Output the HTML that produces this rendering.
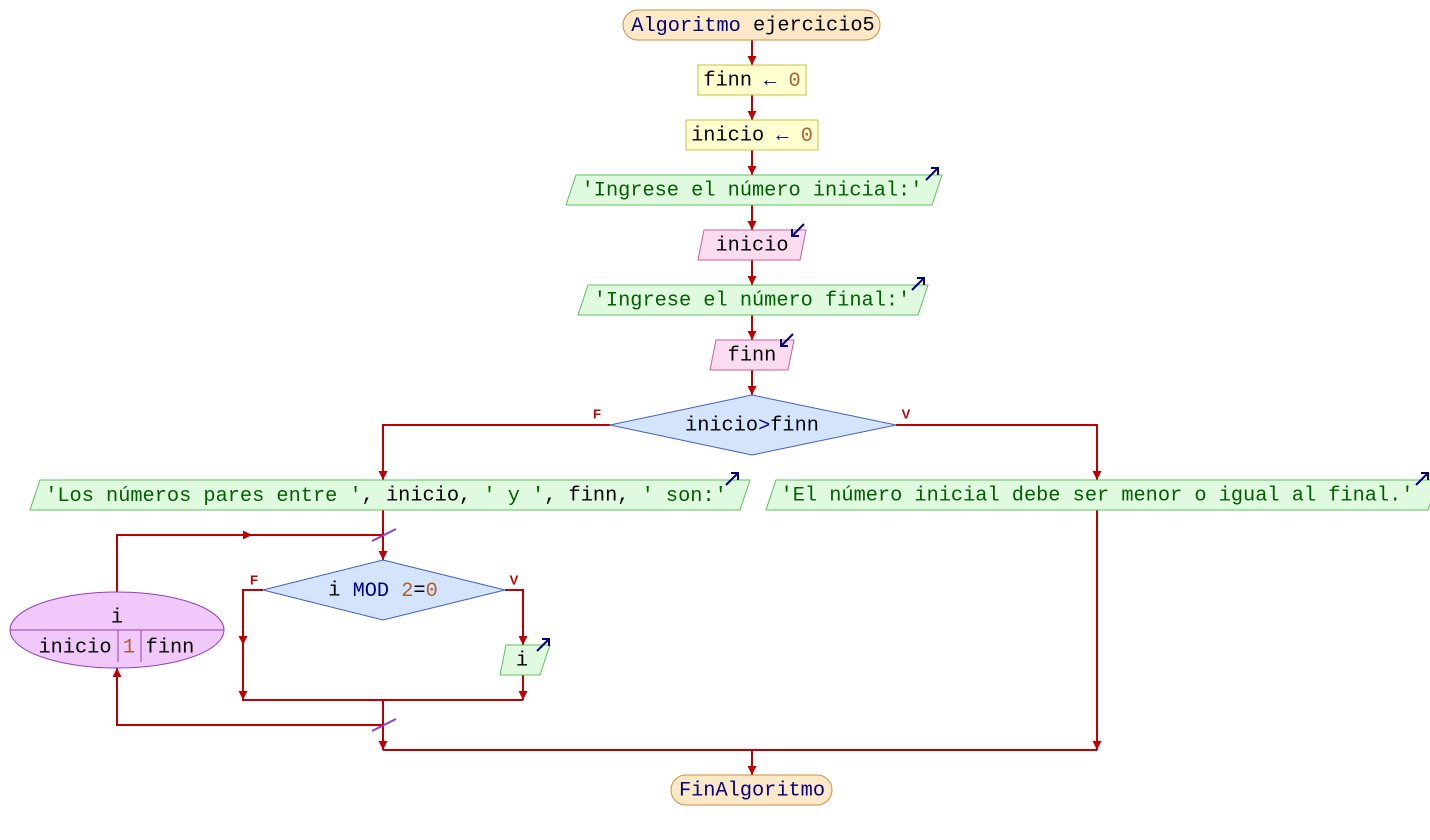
<!DOCTYPE html>
<html><head><meta charset="utf-8"><style>
body{margin:0;background:#fff}
svg{display:block}
text{font-family:"Liberation Mono",monospace;font-size:20.3px;dominant-baseline:central;text-anchor:middle}
.s{fill:#006000}.n{fill:#b06030}.k{fill:#000080}
.fl{font-family:"Liberation Sans",sans-serif;font-size:13px;font-weight:bold;fill:#c00000}
</style></head><body>
<svg width="1430" height="840" viewBox="0 0 1430 840">
<defs>
<marker id="a" viewBox="0 0 10 10" refX="10" refY="5" markerWidth="9" markerHeight="9" orient="auto-start-reverse" markerUnits="userSpaceOnUse"><path d="M0,0L10,5L0,10z" fill="#c00000"/></marker>
<g id="oa"><line x1="0" y1="12" x2="12" y2="0" stroke="#000080" stroke-width="2"/><path d="M5,0H12V7" fill="none" stroke="#000080" stroke-width="2"/></g>
<g id="ia"><line x1="12" y1="0" x2="0" y2="12" stroke="#000080" stroke-width="2"/><path d="M0,5V12H7" fill="none" stroke="#000080" stroke-width="2"/></g>
</defs>
<g stroke="#c00000" stroke-width="2" fill="none">
<line x1="752" y1="40" x2="752" y2="65" marker-end="url(#a)"/>
<line x1="752" y1="95" x2="752" y2="120" marker-end="url(#a)"/>
<line x1="752" y1="150" x2="752" y2="175" marker-end="url(#a)"/>
<line x1="752" y1="205" x2="752" y2="230" marker-end="url(#a)"/>
<line x1="752" y1="260" x2="752" y2="285" marker-end="url(#a)"/>
<line x1="752" y1="315" x2="752" y2="340" marker-end="url(#a)"/>
<line x1="752" y1="370" x2="752" y2="395" marker-end="url(#a)"/>
<path d="M610,425H383V480" marker-end="url(#a)"/>
<path d="M896,425H1097V480" marker-end="url(#a)"/>
<line x1="383" y1="510" x2="383" y2="560" marker-end="url(#a)"/>
<path d="M117,592V535H383"/>
<line x1="117" y1="535" x2="252" y2="535" marker-end="url(#a)"/>
<path d="M263,590H243V700H523"/>
<line x1="243" y1="600" x2="243" y2="645" marker-end="url(#a)"/>
<line x1="243" y1="650" x2="243" y2="700" marker-end="url(#a)"/>
<path d="M505,590H523V645" marker-end="url(#a)"/>
<line x1="523" y1="675" x2="523" y2="700" marker-end="url(#a)"/>
<path d="M383,700V725H117V668" marker-end="url(#a)"/>
<line x1="383" y1="725" x2="383" y2="750" marker-end="url(#a)"/>
<line x1="1097" y1="510" x2="1097" y2="750" marker-end="url(#a)"/>
<line x1="383" y1="750" x2="1097" y2="750"/>
<line x1="752" y1="750" x2="752" y2="775" marker-end="url(#a)"/>
</g>
<line x1="372" y1="541" x2="396" y2="529" stroke="#9040c0" stroke-width="2"/>
<line x1="372" y1="731" x2="396" y2="719" stroke="#9040c0" stroke-width="2"/>
<rect x="623" y="10" width="257" height="30" rx="15" fill="#fde8c8" stroke="#c89040"/>
<text x="753" y="26"><tspan class="k">Algoritmo</tspan> ejercicio5</text>
<rect x="698" y="65" width="108" height="30" fill="#ffffd0" stroke="#c8c040"/>
<text x="752" y="81">finn <tspan class="k">←</tspan> <tspan class="n">0</tspan></text>
<rect x="686" y="120" width="132" height="30" fill="#ffffd0" stroke="#c8c040"/>
<text x="752" y="136">inicio <tspan class="k">←</tspan> <tspan class="n">0</tspan></text>
<polygon points="576,175 942,175 932,205 566,205" fill="#e0fae0" stroke="#60c060"/>
<text x="752" y="191" class="s">'Ingrese el número inicial:'</text>
<use href="#oa" x="926" y="168"/>
<polygon points="704,230 806,230 800,260 698,260" fill="#fadcf0" stroke="#d06090"/>
<text x="752" y="246">inicio</text>
<use href="#ia" x="792" y="224"/>
<polygon points="588,285 928,285 918,315 578,315" fill="#e0fae0" stroke="#60c060"/>
<text x="752" y="301" class="s">'Ingrese el número final:'</text>
<use href="#oa" x="912" y="278"/>
<polygon points="716,340 794,340 788,370 710,370" fill="#fadcf0" stroke="#d06090"/>
<text x="752" y="356">finn</text>
<use href="#ia" x="781" y="334"/>
<polygon points="752,395 896,425 752,455 610,425" fill="#d4e4fc" stroke="#4060c0"/>
<text x="752" y="426">inicio<tspan class="k">&gt;</tspan>finn</text>
<text x="597" y="414" class="fl">F</text>
<text x="906" y="414" class="fl">V</text>
<polygon points="40,480 750,480 740,510 30,510" fill="#e0fae0" stroke="#60c060"/>
<text x="386" y="496"><tspan class="s">'Los números pares entre '</tspan>, inicio, <tspan class="s">' y '</tspan>, finn, <tspan class="s">' son:'</tspan></text>
<use href="#oa" x="726" y="473"/>
<polygon points="776,480 1438,480 1428,510 766,510" fill="#e0fae0" stroke="#60c060"/>
<text x="1097" y="496" class="s">'El número inicial debe ser menor o igual al final.'</text>
<use href="#oa" x="1416" y="473"/>
<polygon points="383,560 505,590 383,620 263,590" fill="#d4e4fc" stroke="#4060c0"/>
<text x="383" y="591">i <tspan class="k">MOD</tspan> <tspan class="n">2</tspan>=<tspan class="n">0</tspan></text>
<text x="254" y="580" class="fl">F</text>
<text x="514" y="580" class="fl">V</text>
<polygon points="506,645 550,645 540,675 500,675" fill="#e0fae0" stroke="#60c060"/>
<text x="522" y="661">i</text>
<use href="#oa" x="537" y="639"/>
<ellipse cx="117" cy="630" rx="107" ry="38" fill="#f0c8fa" stroke="#9040c0"/>
<line x1="10" y1="630" x2="224" y2="630" stroke="#9040c0"/>
<line x1="118" y1="630" x2="118" y2="662" stroke="#9040c0"/>
<line x1="141" y1="630" x2="141" y2="662" stroke="#9040c0"/>
<text x="117" y="618">i</text>
<text x="75" y="648">inicio</text>
<text x="129" y="648" class="n">1</text>
<text x="170" y="648">finn</text>
<rect x="671" y="775" width="161" height="30" rx="15" fill="#fde8c8" stroke="#c89040"/>
<text x="752" y="791" class="k">FinAlgoritmo</text>
</svg>
</body></html>
